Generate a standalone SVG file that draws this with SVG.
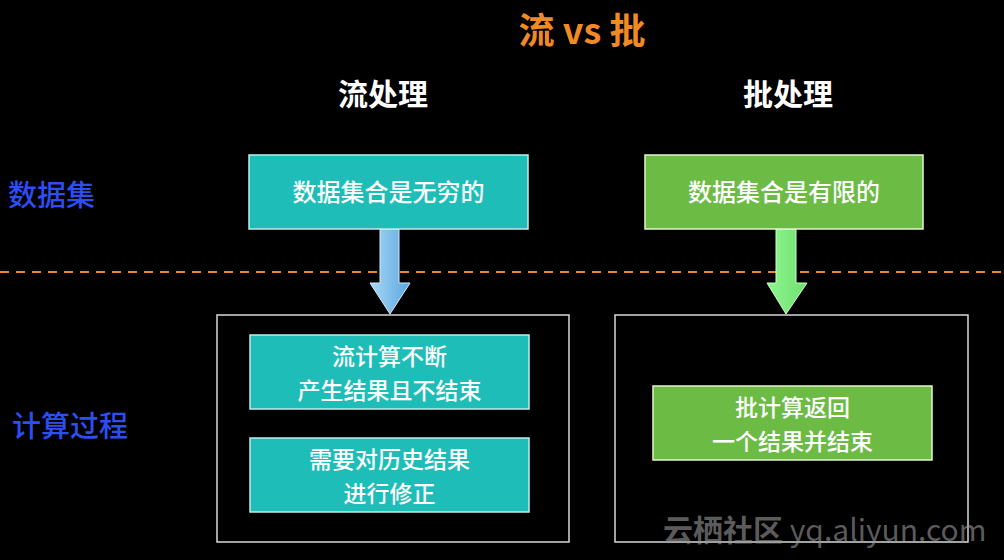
<svg xmlns="http://www.w3.org/2000/svg" width="1004" height="560" viewBox="0 0 1004 560">
<defs>
<style>
text{font-family:"Noto Sans CJK SC","Noto Sans",sans-serif;}
.t{fill:#ffffff;font-size:24px;font-weight:500;text-anchor:middle;}
.t2{fill:#ffffff;font-size:23px;font-weight:500;text-anchor:middle;}
.h{fill:#ffffff;font-size:30px;font-weight:bold;text-anchor:middle;}
.side{fill:#2d4ef0;font-size:29px;font-weight:500;}
.teal{fill:#1fbdb8;stroke:#bfeeee;stroke-width:1.5;}
.green{fill:#6cbb45;stroke:#e6f5c8;stroke-width:1.5;}
.frame{fill:none;stroke:#d8d8d8;stroke-width:1.5;}
</style>
<linearGradient id="gb" x1="0" y1="0" x2="1" y2="0">
<stop offset="0" stop-color="#a8d8f4"/><stop offset="1" stop-color="#5ba6e0"/>
</linearGradient>
<linearGradient id="gg" x1="0" y1="0" x2="1" y2="0">
<stop offset="0" stop-color="#90f590"/><stop offset="1" stop-color="#6ee06e"/>
</linearGradient>
</defs>
<rect width="1004" height="560" fill="#000"/>
<text x="582" y="44" font-size="36" font-weight="bold" fill="#f08a24" text-anchor="middle">流 vs 批</text>
<text class="h" x="383" y="105">流处理</text>
<text class="h" x="788" y="105">批处理</text>
<text class="side" x="8" y="206">数据集</text>
<text class="side" x="12" y="437">计算过程</text>
<line x1="0" y1="272" x2="1004" y2="272" stroke="#e8892a" stroke-width="2" stroke-dasharray="9,7"/>
<g id="connectors">
<path d="M380 229 H399 V283 H410 L390 314 L370 283 H380 Z" fill="url(#gb)" stroke="#d0ecff" stroke-width="1"/>
<path d="M776 229 H796 V283 H807 L786 314 L767 283 H776 Z" fill="url(#gg)" stroke="#c8ffc8" stroke-width="1"/>
</g>
<g id="stream-data">
<rect class="teal" x="249" y="155" width="279" height="74"/>
<text class="t" x="388.500" y="201">数据集合是无穷的</text>
</g>
<g id="batch-data">
<rect class="green" x="645" y="155" width="278" height="74"/>
<text class="t" x="784" y="201">数据集合是有限的</text>
</g>
<g id="stream-proc">
<rect class="frame" x="217" y="315" width="352" height="227"/>
</g>
<g id="stream-proc-1">
<rect class="teal" x="250" y="335" width="279" height="74"/>
<text class="t2" x="389.500" y="365">流计算不断</text>
<text class="t2" x="389.500" y="398.500">产生结果且不结束</text>
</g>
<g id="stream-proc-2">
<rect class="teal" x="250" y="438" width="279" height="74"/>
<text class="t2" x="389.500" y="468">需要对历史结果</text>
<text class="t2" x="389.500" y="501.500">进行修正</text>
</g>
<g id="batch-proc">
<rect class="frame" x="615" y="315" width="353" height="227"/>
</g>
<g id="batch-proc-1">
<rect class="green" x="653" y="386" width="279" height="74"/>
<text class="t2" x="792.500" y="416">批计算返回</text>
<text class="t2" x="792.500" y="449.500">一个结果并结束</text>
</g>
<text x="663" y="541" font-size="30" font-weight="bold" fill="#9a9a9a" fill-opacity="0.6">云栖社区 <tspan font-weight="normal">yq.aliyun.com</tspan></text>
</svg>
